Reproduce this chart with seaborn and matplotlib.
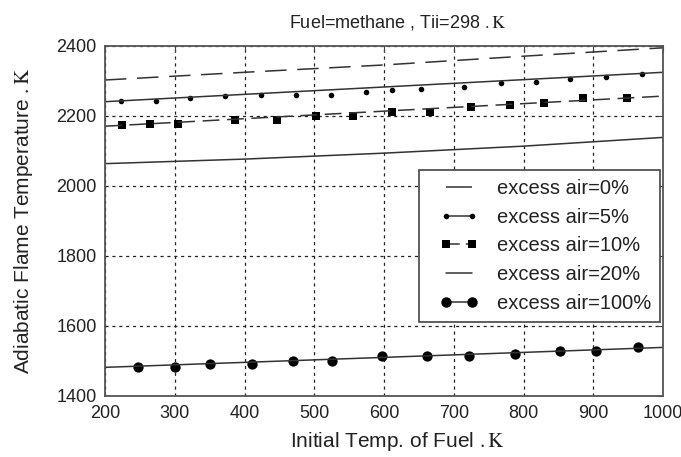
import matplotlib
matplotlib.use("Agg")
import matplotlib.pyplot as plt
import seaborn as sns
import pandas as pd
from matplotlib.lines import Line2D
from matplotlib.legend_handler import HandlerLine2D

# ---- data ----
labels = ["excess air=0%", "excess air=5%", "excess air=10%", "excess air=20%", "excess air=100%"]

x_air0 = [200, 400, 600, 800, 1000]
y_air0 = [2302, 2324, 2345, 2370, 2394]

x_air5_line = [200, 1000]
y_air5_line = [2240, 2324]
x_air5 = [223, 273, 322, 372, 423, 474, 524, 574, 612, 653, 714, 768, 818, 866, 918, 970]
y_air5 = [2243, 2243, 2250, 2255, 2260, 2260, 2260, 2269, 2274, 2277, 2283, 2293, 2296, 2305, 2312, 2319]

x_air10_line = [200, 1000]
y_air10_line = [2170, 2256]
x_air10 = [224, 265, 304, 386, 447, 503, 555, 611, 666, 725, 781, 830, 885, 949]
y_air10 = [2173, 2176, 2176, 2188, 2188, 2200, 2200, 2210, 2210, 2224, 2232, 2237, 2250, 2252]

x_air20 = [200, 400, 600, 800, 1000]
y_air20 = [2063, 2076, 2093, 2113, 2138]

x_air100_line = [200, 1000]
y_air100_line = [1481, 1538]
x_air100 = [248, 300, 350, 411, 470, 526, 597, 661, 722, 788, 853, 904, 964]
y_air100 = [1482, 1482, 1491, 1491, 1500, 1500, 1513, 1513, 1513, 1518, 1527, 1527, 1538]

x_ticks = [200, 300, 400, 500, 600, 700, 800, 900, 1000]
y_ticks = [1400, 1600, 1800, 2000, 2200, 2400]

# ---- style ----
sns.set_style("white")
plt.rcParams['font.family'] = ['Liberation Sans', 'DejaVu Sans']
plt.rcParams['mathtext.fontset'] = 'stix'

LC = '#333333'
fig = plt.figure(figsize=(6.81, 4.57), dpi=100)
ax = fig.add_axes([105/681, 1-395.7/457, 558/681, 350/457])

def line_df(x, y):
    return pd.DataFrame({"x": x, "y": y})

l0 = sns.lineplot(data=line_df(x_air0, y_air0), x="x", y="y", ax=ax, color=LC, lw=1.1,
                  estimator=None).lines[-1]
l0.set_dashes([14, 7])
sns.lineplot(data=line_df(x_air5_line, y_air5_line), x="x", y="y", ax=ax, color=LC, lw=1.1, estimator=None)
sns.scatterplot(data=line_df(x_air5, y_air5), x="x", y="y", ax=ax, color='black', s=16, marker='o', linewidth=0)
l10 = sns.lineplot(data=line_df(x_air10_line, y_air10_line), x="x", y="y", ax=ax, color=LC, lw=1.1, estimator=None).lines[-1]
l10.set_dashes([11, 5])
sns.scatterplot(data=line_df(x_air10, y_air10), x="x", y="y", ax=ax, color='black', s=28, marker='s', linewidth=0)
sns.lineplot(data=line_df(x_air20, y_air20), x="x", y="y", ax=ax, color=LC, lw=1.1, estimator=None)
sns.lineplot(data=line_df(x_air100_line, y_air100_line), x="x", y="y", ax=ax, color=LC, lw=1.1, estimator=None)
sns.scatterplot(data=line_df(x_air100, y_air100), x="x", y="y", ax=ax, color='black', s=55, marker='o', linewidth=0)

ax.set_xlim(200, 1000)
ax.set_ylim(1400, 2400)
ax.set_xticks(x_ticks)
ax.set_yticks(y_ticks)
ax.set_xticklabels([str(v) for v in x_ticks])
ax.set_yticklabels([str(v) for v in y_ticks])
ax.tick_params(axis='both', which='major', labelsize=13, direction='in', length=4,
               width=0.8, color='#444444', labelcolor='#222222', top=True, right=True)
ax.tick_params(axis='x', pad=7)
ax.tick_params(axis='y', pad=6)
ax.grid(True, color='#222222', linestyle=(0, (2.5, 3)), linewidth=0.9)
for s in ax.spines.values():
    s.set_color('#555555')
    s.set_linewidth(1.3)

ax.set_xlabel("Initial Temp. of Fuel " + r"$.\mathrm{K}$", fontsize=15, color='#222222')
ax.set_ylabel("Adiabatic Flame Temperature " + r"$.\mathrm{K}$", fontsize=15, color='#222222')
ax.xaxis.set_label_coords(0.523, -0.098)
ax.yaxis.set_label_coords(-0.125, 0.5)
ax.set_title("Fuel=methane , Tii=298 " + r"$.\mathrm{K}$", fontsize=13, color='#222222',
             x=0.524, pad=13)

handles = [
    Line2D([], [], color=LC, lw=1.1, dashes=[17, 8]),
    Line2D([], [], color=LC, lw=1.1, marker='o', markersize=4, markerfacecolor='black', markeredgewidth=0),
    Line2D([], [], color=LC, lw=1.1, dashes=[9, 4], marker='s', markersize=5.5, markerfacecolor='black', markeredgewidth=0),
    Line2D([], [], color=LC, lw=1.1),
    Line2D([], [], color=LC, lw=1.1, marker='o', markersize=7.5, markerfacecolor='black', markeredgewidth=0),
]
leg = ax.legend(handles, labels, loc='upper right', bbox_to_anchor=(0.9946, 0.6449),
                borderaxespad=0, fontsize=14.5, frameon=True, fancybox=False, framealpha=1,
                edgecolor='#444444', handlelength=3.1, handletextpad=0.33, labelspacing=0.48,
                borderpad=0.45,
                handler_map={Line2D: HandlerLine2D(numpoints=2, marker_pad=0.9)})
leg.get_frame().set_linewidth(1.2)
for t in leg.get_texts():
    t.set_color('#222222')

fig.savefig("out.png", dpi=100)
